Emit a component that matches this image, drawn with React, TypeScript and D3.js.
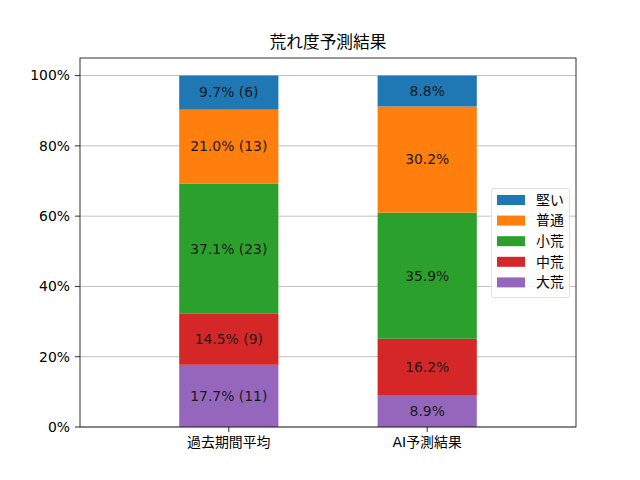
import * as d3 from "d3";

const groups = ["過去期間平均", "AI予測結果"];
// stack order bottom -> top
const levels = ["大荒", "中荒", "小荒", "普通", "堅い"];
const colors = ["#9467bd", "#d62728", "#2ca02c", "#ff7f0e", "#1f77b4"];
const pastPct = [17.7, 14.5, 37.1, 21.0, 9.7];
const pastCount = [11, 9, 23, 13, 6];
const aiPct = [8.9, 16.2, 35.9, 30.2, 8.8];
const yTicks = [0, 20, 40, 60, 80, 100];

const W = 640;
const H = 480;
const left = 80;
const right = 576;
const top = 58;
const bottom = 427;
const font = "'DejaVu Sans', 'Noto Sans CJK JP', sans-serif";

export default function App() {
  const x = d3.scaleLinear().domain([-0.75, 1.75]).range([left, right]);
  const y = d3.scaleLinear().domain([0, 105]).range([bottom, top]);
  const barW = x(0.25) - x(-0.25);

  const series = [
    { vals: pastPct, label: (i: number) => `${pastPct[i].toFixed(1)}% (${pastCount[i]})` },
    { vals: aiPct, label: (i: number) => `${aiPct[i].toFixed(1)}%` },
  ];

  const legendItems = levels.map((l, i) => ({ l, c: colors[i] })).reverse();

  return (
    <svg width={W} height={H} style={{ position: "absolute", left: 0, top: 0 }} fontFamily={font}>
      <rect width={W} height={H} fill="#fff" />
      {yTicks.map((t) => (
        <g key={t}>
          <line x1={left} x2={right} y1={y(t)} y2={y(t)} stroke="#b0b0b0" strokeWidth={0.8} />
          <line x1={left - 5} x2={left} y1={y(t)} y2={y(t)} stroke="#000" strokeWidth={0.8} />
          <text x={left - 10} y={y(t)} dy="0.35em" textAnchor="end" fontSize={13.9} fill="#000">
            {t}%
          </text>
        </g>
      ))}
      {series.map((s, gi) => {
        let acc = 0;
        return (
          <g key={gi}>
            {s.vals.map((v, i) => {
              const y0 = acc;
              acc += v;
              const y1 = acc;
              return (
                <g key={i}>
                  <rect
                    x={x(gi) - barW / 2}
                    width={barW}
                    y={y(y1)}
                    height={y(y0) - y(y1)}
                    fill={colors[i]}
                  />
                  <text
                    x={x(gi)}
                    y={y((y0 + y1) / 2)}
                    dy="0.35em"
                    textAnchor="middle"
                    fontSize={13.9}
                    fill="#1a1a1a"
                  >
                    {s.label(i)}
                  </text>
                </g>
              );
            })}
          </g>
        );
      })}
      {groups.map((g, i) => (
        <g key={g}>
          <line x1={x(i)} x2={x(i)} y1={bottom} y2={bottom + 5} stroke="#000" strokeWidth={0.8} />
          <text x={x(i)} y={bottom + 20} textAnchor="middle" fontSize={13.9} fill="#000">
            {g}
          </text>
        </g>
      ))}
      <rect x={left} y={top} width={right - left} height={bottom - top} fill="none" stroke="#000" strokeWidth={0.8} />
      <text x={(left + right) / 2} y={top - 10} textAnchor="middle" fontSize={16.7} fill="#000">
        荒れ度予測結果
      </text>
      <g>
        <rect x={491.5} y={188.5} width={78} height={109} rx={2} fill="#fff" fillOpacity={0.8} stroke="#d9d9d9" strokeWidth={0.8} />
        {legendItems.map((it, i) => (
          <g key={it.l} transform={`translate(0, ${200 + i * 20.6})`}>
            <rect x={497} y={-5} width={28} height={10} fill={it.c} />
            <text x={536} y={0} dy="0.35em" fontSize={13.9} fill="#000">
              {it.l}
            </text>
          </g>
        ))}
      </g>
    </svg>
  );
}
